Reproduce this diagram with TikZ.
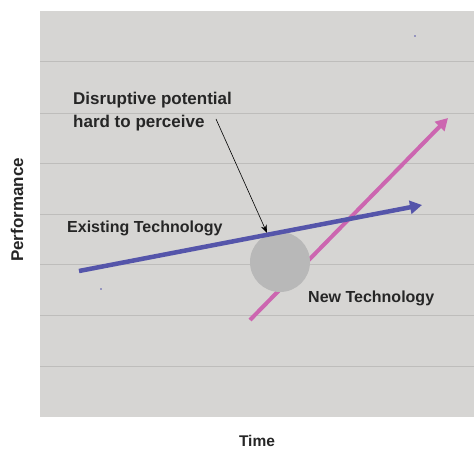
\documentclass[tikz,border=0pt]{standalone}
\usepackage{fontspec}
\setmainfont{Liberation Sans}
\usetikzlibrary{arrows.meta}
\definecolor{panel}{RGB}{214,213,211}
\definecolor{gridc}{RGB}{190,189,187}
\definecolor{bluec}{RGB}{85,85,170}
\definecolor{pinkc}{RGB}{204,102,176}
\definecolor{circc}{RGB}{184,184,184}
\tikzset{
  lbl/.style={font=\bfseries\fontsize{16}{23}\selectfont, text=black!85, inner sep=0pt},
  trend/.style={line width=4.5pt, -{Triangle[length=12pt,width=13pt]}},
}
\begin{document}
\begin{tikzpicture}[x=1pt,y=-1pt]
\useasboundingbox (0,0) rectangle (474,449);
\fill[panel] (40,11) rectangle (474,417);
\foreach \y in {61,113,163,214,264,315,366}
  \draw[gridc, line width=0.8pt] (40,\y) -- (474,\y);
\coordinate (es) at (79,271);
\coordinate (ee) at (422,205);
\coordinate (ns) at (250,320);
\coordinate (ne) at (448,118);
\draw[trend, pinkc, line width=4pt] (ns) -- (ne);
\node[circle, fill=circc, minimum size=60pt, inner sep=0pt] (blob) at (280,262) {};
\draw[trend, bluec] (es) -- (ee);
\node[lbl, font=\bfseries\fontsize{17}{23}\selectfont, anchor=west, align=left] (disr) at (73,112) {Disruptive potential\\hard to perceive};
\coordinate (tip) at (267,233);
\draw[black, line width=0.6pt, -{Stealth[length=8pt,width=6pt]}] (216,119) -- (tip);
\node[lbl, anchor=west] (exist) at (67,228) {Existing Technology};
\node[lbl, anchor=west] (newt) at (308,298) {New Technology};
\node[lbl, font=\bfseries\fontsize{15.5}{18}\selectfont, anchor=base] (time) at (257,446.5) {Time};
\node[lbl, font=\bfseries\fontsize{17}{20}\selectfont, rotate=90] (perf) at (17,210) {Performance};
\fill[bluec] (415,36) circle (0.8pt);
\fill[bluec] (101,289) circle (0.8pt);
\end{tikzpicture}
\end{document}
